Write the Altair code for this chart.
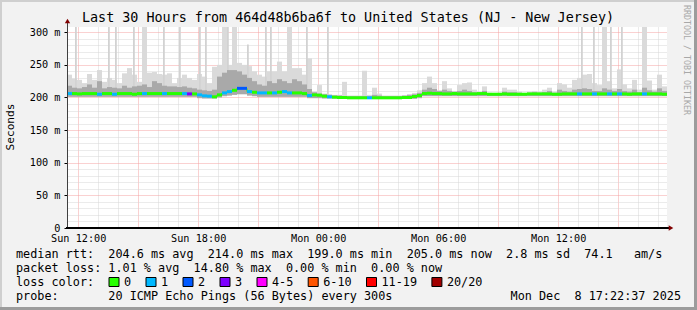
import altair as alt
import pandas as pd

# ---------------- data ----------------
T0 = 11.44      # plot start, hours after Sun 00:00
STEP = 0.25     # 15-minute bins
SPAN = 30.0
Y_MAX = 308

median_ms = [
    206, 206, 205.5, 206, 206, 206, 205, 206, 206, 205, 206, 206, 206, 205, 206, 206, 206, 206, 206, 206,
    206, 206, 206, 206, 205.5, 205.5, 204, 202.5, 202, 201, 204, 207, 209, 211, 214, 214, 209, 208, 207, 207,
    207, 207, 208, 209, 207, 207, 207, 206, 203, 204, 203.5, 202, 201, 200.5, 200, 200, 199.5, 199.5, 199.5, 199.5,
    199.5, 199.5, 199.5, 199.5, 199.5, 199.5, 199.5, 200, 200, 201.5, 203, 206, 206.5, 206, 206, 205.5, 205.5, 206, 205.5, 205.5,
    205.5, 205.5, 206, 206, 205, 205, 205, 205.5, 205, 205, 205, 205, 205.5, 205.5, 205.5, 205.5, 205.5, 205, 205, 205.5,
    205.5, 205.5, 205.5, 205.5, 205.5, 205.5, 205.5, 205.5, 205.5, 205.5, 205.5, 205.5, 205, 205.5, 205.5, 205.5, 205.5, 205.5, 205.5, 205,
]

loss_class = [
    1, 0, 0, 0, 0, 0, 1, 0, 0, 1, 0, 0, 0, 0, 0, 1, 0, 0, 0, 1,
    0, 0, 0, 1, 3, 0, 1, 1, 1, 0, 0, 1, 1, 0, 2, 2, 1, 0, 1, 1,
    0, 1, 0, 1, 1, 0, 0, 0, 1, 0, 0, 0, 1, 0, 0, 0, 0, 0, 0, 0,
    1, 0, 0, 0, 0, 0, 0, 0, 0, 0, 0, 0, 0, 0, 0, 0, 0, 0, 0, 0,
    0, 0, 0, 0, 0, 0, 0, 0, 0, 0, 0, 0, 0, 0, 0, 0, 0, 0, 0, 0,
    0, 0, 1, 0, 0, 1, 0, 0, 1, 0, 1, 0, 0, 0, 0, 1, 0, 0, 0, 0,
]

smoke_hi = [
    235, 229, 227, 222, 236, 227, 242, 224, 230, 227, 222, 237, 245, 235, 224, 308, 238, 239, 236, 235,
    237, 222, 230, 235, 230, 227, 236, 232, 222, 247, 250, 308, 250, 308, 253, 250, 248, 240, 235, 232,
    240, 240, 255, 240, 308, 245, 245, 235, 260, 209, 219, 206, 205, 204, 204, 224, 203, 203, 203, 241,
    204, 215, 206, 203, 203, 203, 203, 203, 205, 207, 211, 222, 232, 222, 211, 225, 214, 209, 219, 222,
    223, 212, 209, 217, 206, 204, 206, 215, 212, 212, 209, 206, 209, 210, 209, 212, 215, 209, 222, 220,
    215, 227, 230, 235, 236, 222, 219, 308, 225, 214, 243, 220, 214, 227, 212, 308, 226, 212, 235, 217,
]

smoke_mid = [
    218, 215, 214, 216, 220, 215, 225, 214, 216, 215, 214, 218, 215, 217, 218, 220, 216, 225, 222, 218,
    217, 217, 216, 217, 215, 214, 212, 211, 210, 212, 232, 238, 242, 242, 240, 235, 230, 225, 220, 218,
    225, 222, 228, 225, 222, 228, 225, 220, 213, 208, 206, 205, 204, 203, 203, 202, 202, 202, 202, 202,
    202, 204, 203, 202, 202, 202, 202, 203, 204, 205, 207, 212, 215, 213, 210, 212, 210, 209, 210, 212,
    210, 208, 207, 210, 207, 206, 207, 209, 208, 208, 207, 206, 207, 208, 207, 208, 210, 207, 212, 210,
    209, 212, 213, 214, 213, 210, 210, 214, 212, 210, 213, 210, 209, 212, 208, 215, 211, 209, 214, 210,
]

smoke_lo = [
    201, 201, 201, 201, 201, 201, 201, 201, 201, 201, 201, 201, 201, 201, 201, 201, 201, 201, 201, 201,
    201, 201, 201, 201, 201, 201, 199, 198.5, 198.5, 198.5, 200, 202, 203, 204, 205, 205, 203, 202, 201, 201,
    201, 201, 201, 201, 201, 201, 201, 201, 199, 199, 199, 198.5, 198.5, 198.5, 198, 198, 198, 198, 198, 198,
    198, 198, 198, 198, 198, 198, 198, 198, 198, 198, 199, 202, 202, 202, 202, 202, 202, 202, 202, 202,
    202, 202, 202, 202, 202, 202, 202, 202, 202, 202, 202, 202, 202, 202, 202, 202, 202, 202, 202, 202,
    202, 202, 202, 202, 202, 202, 202, 202, 202, 202, 202, 202, 202, 202, 202, 202, 202, 202, 202, 202,
]

spike_hours = [11.84, 13.49, 13.84, 14.74, 16.24, 17.04, 18.04, 18.34, 19.44, 20.44,
               21.34, 21.59, 23.39, 24.44, 37.14, 37.74, 38.59, 39.14]
spike_top = [308, 308, 308, 308, 308, 308, 308, 308, 308, 281,
             308, 308, 308, 308, 308, 308, 308, 308]
spike_base = [203] * len(spike_hours)

loss_labels = ["0", "1", "2", "3", "4-5", "6-10", "11-19", "20/20"]
loss_colors = ["#26ff00", "#00b8ff", "#0059ff", "#7e00ff", "#ff00ff", "#ff5500", "#ff0000", "#a10000"]

x_tick_hours = [12, 18, 24, 30, 36]
x_tick_labels = ["Sun 12:00", "Sun 18:00", "Mon 00:00", "Mon 06:00", "Mon 12:00"]

title_text = "Last 30 Hours from 464d48b6ba6f to United States (NJ - New Jersey)"
line_median = "median rtt:  204.6 ms avg  214.0 ms max  199.0 ms min  205.0 ms now  2.8 ms sd  74.1   am/s"
line_loss = "packet loss: 1.01 % avg  14.80 % max  0.00 % min  0.00 % now"
line_color = "loss color:"
line_probe = "probe:       20 ICMP Echo Pings (56 Bytes) every 300s"
stamp = "Mon Dec  8 17:22:37 2025"
side_text = "RRDTOOL / TOBI OETIKER"

# ---------------- layout / style ----------------
W, H = 600, 201
PL, PT = 67, 27
MONO = "DejaVu Sans Mono"
BG = "#f2f2f2"
LIGHT = "#dadada"
MIDG = "#a9a9a9"
MAJOR = "#f5a3a3"
MINOR = "#d6d6d6"
CH = 7.1  # legend character advance
NB = "\u00a0"

n = len(median_ms)
bins = pd.DataFrame({
    "t": [T0 + STEP * i for i in range(n)],
    "med": median_ms,
    "hi": smoke_hi,
    "mid": smoke_mid,
    "lo": smoke_lo,
    "loss": [loss_labels[k] for k in loss_class],
})
bins["t2"] = bins["t"] + STEP

spikes = pd.DataFrame({"t": spike_hours, "top": spike_top, "base": spike_base})
spikes["t2"] = spikes["t"] + 0.09

xs = alt.Scale(domain=[T0, T0 + SPAN], nice=False, zero=False)
ys = alt.Scale(domain=[0, Y_MAX], nice=False, zero=False)

label_expr_x = "".join(f"datum.value == {h} ? '{s}' : " for h, s in zip(x_tick_hours, x_tick_labels)) + "''"

x_axis = alt.Axis(
    values=list(range(12, 42)), labelExpr=label_expr_x, grid=True,
    gridColor={"condition": {"test": "datum.value % 3 == 0", "value": MAJOR}, "value": MINOR},
    gridDash=[1, 1], gridWidth=1, domain=False, ticks=False,
    labelFont=MONO, labelFontSize=10.2, labelColor="black", labelPadding=5,
    labelOverlap=False, labelFlush=False, title=None,
)
y_axis = alt.Axis(
    values=list(range(0, 301, 10)),
    labelExpr="datum.value % 50 == 0 ? (datum.value == 0 ? '0' : datum.value + ' m') : ''",
    grid=True,
    gridColor={"condition": {"test": "datum.value % 50 == 0", "value": MAJOR}, "value": MINOR},
    gridDash=[1, 1], gridWidth=1, domain=False,
    ticks=True, tickSize=3, tickColor="#000000",
    tickOpacity={"condition": {"test": "datum.value % 50 == 0", "value": 1}, "value": 0},
    labelFont=MONO, labelFontSize=10.2, labelColor="black", labelPadding=4,
    labelOverlap=False, title=None,
)


def X(field):
    return alt.X(field, type="quantitative", scale=xs, axis=x_axis)


def Y(field):
    return alt.Y(field, type="quantitative", scale=ys, axis=y_axis)


base = alt.Chart(bins)

smoke_light = base.mark_rect(color=LIGHT).encode(x=X("t"), x2="t2:Q", y=Y("lo"), y2="hi:Q")
spike_layer = alt.Chart(spikes).mark_rect(color="#d2d2d2").encode(x=X("t"), x2="t2:Q", y=Y("top"), y2="base:Q")
smoke_mid_layer = base.mark_rect(color=MIDG).encode(x=X("t"), x2="t2:Q", y=Y("lo"), y2="mid:Q")
median_step = base.mark_line(interpolate="step-after", color="#26ff00", strokeWidth=1).encode(x=X("t"), y=Y("med"))
median_seg = base.mark_rule(strokeWidth=3, strokeCap="butt").encode(
    x=X("t"), x2="t2:Q", y=Y("med"),
    color=alt.Color("loss:N", scale=alt.Scale(domain=loss_labels, range=loss_colors), legend=None),
)

one = alt.Chart(pd.DataFrame({"a": [0]}))


def px(x):
    return alt.value(x - PL)


def py(y):
    return alt.value(y - PT)


def rect(x1, x2, y1, y2, color, stroke=None):
    kw = dict(color=color)
    if stroke:
        kw = dict(fill=color, stroke=stroke, strokeWidth=1)
    return one.mark_rect(**kw).encode(x=px(x1), x2=px(x2), y=py(y1), y2=py(y2))


def text(s, x, y, size=11.8, align="left", color="black", angle=0, font=MONO):
    kw = dict(text=s.replace(" ", NB), font=font, fontSize=size, align=align, baseline="middle", color=color)
    if angle:
        kw["angle"] = angle
    return one.mark_text(**kw).encode(x=px(x), y=py(y))


layers = [smoke_light, spike_layer, smoke_mid_layer, median_step, median_seg]

# axes lines + arrows
layers.append(one.mark_rule(color="#404040", strokeWidth=1).encode(x=px(67.5), y=py(22), y2=py(228)))
layers.append(one.mark_rule(color="#000000", strokeWidth=2).encode(x=px(66), x2=px(669), y=py(228)))
layers.append(one.mark_point(shape="triangle-up", filled=True, color="#800000", size=28, opacity=1).encode(x=px(67.5), y=py(21)))
layers.append(one.mark_point(shape="triangle-right", filled=True, color="#800000", size=28, opacity=1).encode(x=px(671), y=py(228)))

# frame
layers.append(rect(0, 697, 0, 2, "#cfcfcf"))
layers.append(rect(0, 2, 0, 310, "#cfcfcf"))
layers.append(rect(0, 697, 307, 310, "#9c9c9c"))
layers.append(rect(694, 697, 0, 310, "#9c9c9c"))

# texts
layers.append(text(title_text, 348, 18, size=13.4, align="center"))
layers.append(text("Seconds", 11, 127, size=11.2, align="center", angle=270))
layers.append(text(side_text, 686, 60, size=8.3, align="center", color="#a8a8a8", angle=90))
layers.append(text(line_median, 16, 254))
layers.append(text(line_loss, 16, 268))
layers.append(text(line_color, 16, 282))
layers.append(text(line_probe, 16, 296))
layers.append(text(stamp, 681, 296, align="right"))

# loss colour legend
left = 109
for lab, col in zip(loss_labels, loss_colors):
    layers.append(rect(left, left + 10, 277.5, 286.5, col, stroke="#000000"))
    layers.append(text(lab, left + 15, 282))
    left = left + 37 + CH * (len(lab) - 1)

chart = alt.layer(*layers).properties(
    width=W, height=H,
    padding={"left": PL, "top": PT, "right": 697 - PL - W, "bottom": 310 - PT - H},
    autosize=alt.AutoSizeParams(type="none"),
).configure(background=BG).configure_view(strokeWidth=0, fill="white")

chart.save("out.html", embed_options={"renderer": "svg", "actions": False})
